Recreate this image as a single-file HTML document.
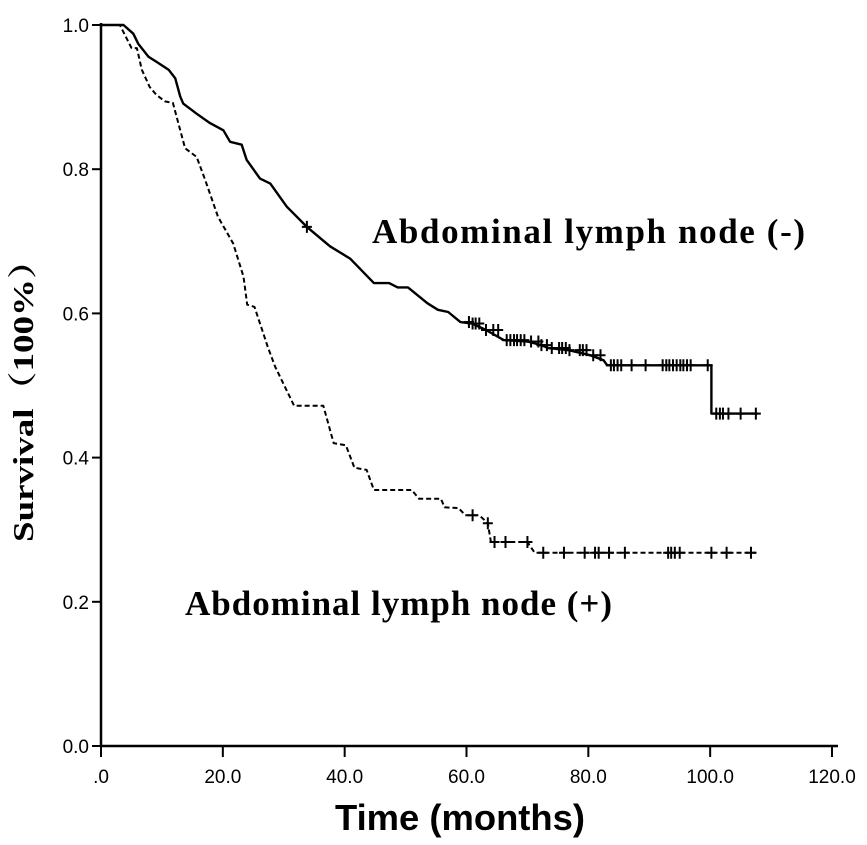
<!DOCTYPE html>
<html><head><meta charset="utf-8"><style>
html,body{margin:0;padding:0;background:#fff;}
svg{display:block;}
</style></head><body>
<svg id="chart" width="867" height="845" viewBox="0 0 867 845" xmlns="http://www.w3.org/2000/svg">
<g id="axes"></g>
<g id="series"></g>
<text transform="translate(33,392) rotate(-90)" text-anchor="middle" font-family="'Liberation Serif','Noto Serif CJK SC',serif" font-weight="bold" font-size="29" textLength="300" lengthAdjust="spacingAndGlyphs">Survival（100%）</text>
<text x="460" y="830" text-anchor="middle" font-family="'Liberation Sans',sans-serif" font-weight="bold" font-size="36" textLength="250" lengthAdjust="spacingAndGlyphs">Time (months)</text>
<text x="372" y="243" font-family="'Liberation Serif',serif" font-weight="bold" font-size="35" textLength="433" lengthAdjust="spacing">Abdominal lymph node (-)</text>
<text x="185" y="615" font-family="'Liberation Serif',serif" font-weight="bold" font-size="35" textLength="427" lengthAdjust="spacing">Abdominal lymph node (+)</text>
</svg>
<script>
const xTicks = [0,20,40,60,80,100,120];
const xTickLabels = [".0","20.0","40.0","60.0","80.0","100.0","120.0"];
const yTicks = [0,0.2,0.4,0.6,0.8,1.0];
const yTickLabels = ["0.0","0.2","0.4","0.6","0.8","1.0"];
const negTimes = [0,3.7,5.3,6.1,7.8,9.1,11.1,12.2,13.0,13.5,15.7,17.9,20.1,21.2,23.1,23.9,26.1,27.8,30.5,33.8,37.6,40.9,44.8,47.3,48.7,50.4,53.6,55.3,57.0,59.0,60.9,63.2,66.1,70.0,72.3,73.4,76.8,80.3,82.5,83.1,100.2,100.2,107.8];
const negSurv = [1,1,0.988,0.974,0.956,0.949,0.938,0.926,0.901,0.891,0.877,0.864,0.854,0.838,0.834,0.813,0.787,0.780,0.748,0.720,0.693,0.676,0.642,0.642,0.636,0.636,0.614,0.605,0.602,0.588,0.586,0.577,0.563,0.561,0.556,0.552,0.549,0.542,0.535,0.528,0.528,0.461,0.461];
const negCensor = [33.8,60.4,61.0,61.5,62.1,63.2,64.4,65.2,66.6,67.2,67.8,68.3,68.9,69.5,70.6,71.8,72.3,73.2,74.0,75.2,75.7,76.3,76.9,78.6,79.1,79.7,80.8,82.0,83.7,84.2,84.8,85.4,87.1,89.4,92.2,92.8,93.3,93.9,94.5,95.1,95.6,96.2,96.8,99.6,101.0,101.6,102.1,103.0,105.0,107.5];
const posTimes = [0,3.1,5.0,5.9,6.7,8.0,9.1,10.5,11.8,13.8,15.7,17.1,19.2,21.7,23.4,24.0,25.2,27.4,28.6,31.7,36.5,38.2,40.2,41.6,43.6,44.8,51.0,52.2,55.8,56.4,58.7,59.8,62.1,63.5,64.0,70.0,71.2,107.6];
const posSurv = [1,1,0.968,0.968,0.938,0.914,0.903,0.894,0.892,0.829,0.817,0.785,0.734,0.697,0.651,0.612,0.609,0.553,0.526,0.472,0.472,0.420,0.417,0.386,0.383,0.355,0.355,0.343,0.343,0.331,0.330,0.320,0.320,0.309,0.283,0.283,0.268,0.268];
const posCensor = [61.0,63.5,64.6,66.4,70.0,72.6,76.0,79.4,81.1,81.7,83.4,86.0,93.1,93.6,94.2,95.0,100.2,102.7,106.7];

const NS='http://www.w3.org/2000/svg';
const X0=101, X1=832, Y0=746, Y1=25;
function xs(t){return X0+(t/120)*(X1-X0);}
function ys(v){return Y0-v*(Y0-Y1);}
function mk(tag,attrs,parent){const e=document.createElementNS(NS,tag);for(const k in attrs)e.setAttribute(k,attrs[k]);parent.appendChild(e);return e;}
function survAt(times,surv,t){let v=surv[0];for(let i=0;i<times.length;i++){if(times[i]<=t)v=surv[i];else break;}return v;}

const axes=document.getElementById('axes');
let l=mk('line',{x1:X0,y1:Y1-2,x2:X0,y2:Y0+1,stroke:'#000','stroke-width':2.5},axes);


l=mk('line',{x1:X0,y1:Y0,x2:X1+6,y2:Y0,stroke:'#000','stroke-width':2.5},axes);


xTicks.forEach((t,i)=>{
  const tk=mk('line',{x1:xs(t),y1:Y0,x2:xs(t),y2:Y0+11,stroke:'#000','stroke-width':2},axes);
  
  
  const tx=mk('text',{x:xs(t),y:Y0+37,'text-anchor':'middle','font-family':"'Liberation Sans',sans-serif",'font-size':19},axes);
  tx.textContent=xTickLabels[i];
  
  
});
yTicks.forEach((v,i)=>{
  const tk=mk('line',{x1:X0-9,y1:ys(v),x2:X0,y2:ys(v),stroke:'#000','stroke-width':2},axes);
  
  
  const tx=mk('text',{x:X0-12,y:ys(v)+7,'text-anchor':'end','font-family':"'Liberation Sans',sans-serif",'font-size':19},axes);
  tx.textContent=yTickLabels[i];
  
  
});

const series=document.getElementById('series');
function drawSeries(times,surv,censor,dash,name){
  const g=mk('g',{},series);
  
  
  const pts=times.map((t,i)=>xs(t).toFixed(1)+','+ys(surv[i]).toFixed(1)).join(' ');
  const p=mk('polyline',{points:pts,fill:'none',stroke:'#000','stroke-width':dash?2:2.4,'stroke-dasharray':dash?'5,3':'none','stroke-linejoin':'round'},g);
  
  
  censor.forEach(t=>{
    const cx=xs(t), cy=ys(survAt(times,surv,t));
    const c=mk('path',{d:`M${cx-5},${cy}H${cx+5}M${cx},${cy-6}V${cy+6}`,stroke:'#000','stroke-width':2},g);
    
    
  });
}
drawSeries(negTimes,negSurv,negCensor,false,'node-negative-curve');
drawSeries(posTimes,posSurv,posCensor,true,'node-positive-curve');
</script>
</body></html>
